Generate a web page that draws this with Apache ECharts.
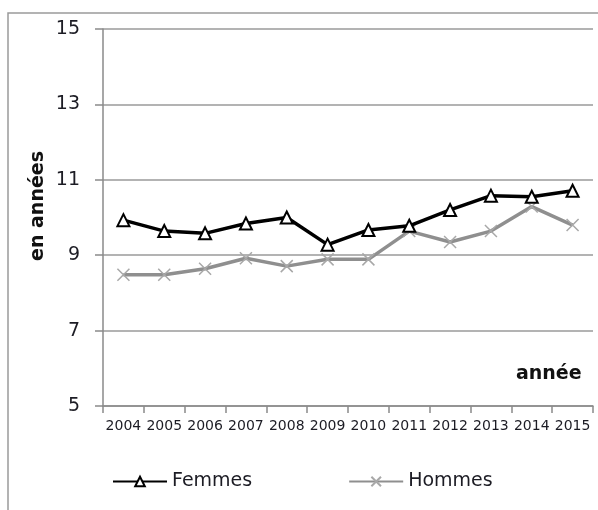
<!DOCTYPE html>
<html>
<head>
<meta charset="utf-8">
<script src="https://cdn.jsdelivr.net/npm/echarts@6/dist/echarts.min.js"></script>
<style>
  html, body { margin: 0; padding: 0; background: #fff; }
  #chart { width: 598px; height: 510px; }
</style>
</head>
<body>
<div id="chart"></div>
<script>
// valeurs
const annees = ["2004", "2005", "2006", "2007", "2008", "2009", "2010", "2011", "2012", "2013", "2014", "2015"];
const femmes = [9.93, 9.64, 9.58, 9.84, 10.0, 9.28, 9.67, 9.78, 10.2, 10.58, 10.55, 10.71];
const hommes = [8.48, 8.48, 8.64, 8.92, 8.71, 8.89, 8.89, 9.64, 9.35, 9.64, 10.29, 9.8];
const yTicks = [5, 7, 9, 11, 13, 15];

const font = "DejaVu Sans";
const textColor = "#1c1c24";
const axisGray = "#8a8a8a";
const crossPath = "path://M0,0L10,10M10,0L0,10";

const chart = echarts.init(document.getElementById("chart"));

const option = {
  animation: false,
  backgroundColor: "#fff",
  grid: { left: 103, right: 5, top: 29, bottom: 104 },
  legend: {
    left: 112,
    top: 472,
    padding: 0,
    itemWidth: 54,
    itemHeight: 12,
    itemGap: 96,
    textStyle: { fontFamily: font, fontSize: 19, color: textColor },
    data: ["Femmes", "Hommes"]
  },
  xAxis: {
    type: "category",
    data: annees,
    boundaryGap: true,
    axisLine: { lineStyle: { color: axisGray, width: 1.5 } },
    axisTick: { show: true, length: 7, alignWithLabel: false, lineStyle: { color: axisGray, width: 1.5 } },
    axisLabel: { margin: 13, fontFamily: font, fontSize: 14, color: textColor, interval: 0 },
    splitLine: { show: false }
  },
  yAxis: {
    type: "value",
    min: yTicks[0],
    max: yTicks[yTicks.length - 1],
    interval: 2,
    axisLine: { show: true, lineStyle: { color: axisGray, width: 1.5 } },
    axisTick: { show: true, length: 8, lineStyle: { color: axisGray, width: 1.5 } },
    axisLabel: { margin: 23, fontFamily: font, fontSize: 19, color: textColor },
    splitLine: { lineStyle: { color: "#9a9a9a", width: 1.5 } }
  },
  graphic: [
    {
      type: "rect",
      silent: true,
      shape: { x: 8, y: 13, width: 620, height: 540 },
      style: { fill: "none", stroke: "#9a9a9a", lineWidth: 1.5 }
    },
    {
      type: "text",
      x: 38,
      y: 206,
      rotation: Math.PI / 2,
      style: {
        text: "en années",
        fontFamily: font,
        fontWeight: "bold",
        fontSize: 19,
        fill: "#111",
        textAlign: "center",
        textVerticalAlign: "middle"
      }
    },
    {
      type: "text",
      x: 516,
      y: 374,
      style: {
        text: "année",
        fontFamily: font,
        fontWeight: "bold",
        fontSize: 19,
        fill: "#111",
        textAlign: "left",
        textVerticalAlign: "middle"
      }
    }
  ],
  series: [
    {
      name: "Hommes",
      type: "line",
      data: hommes,
      z: 2,
      symbol: crossPath,
      symbolSize: 12,
      lineStyle: { color: "#8f8f8f", width: 3.5 },
      itemStyle: { color: "#a8a8a8", borderColor: "#a8a8a8", borderWidth: 1.5 }
    },
    {
      name: "Femmes",
      type: "line",
      data: femmes,
      z: 3,
      symbol: "triangle",
      symbolSize: 12,
      lineStyle: { color: "#000", width: 3.5 },
      itemStyle: { color: "#fff", borderColor: "#000", borderWidth: 2 }
    }
  ]
};

chart.setOption(option);
</script>
</body>
</html>
